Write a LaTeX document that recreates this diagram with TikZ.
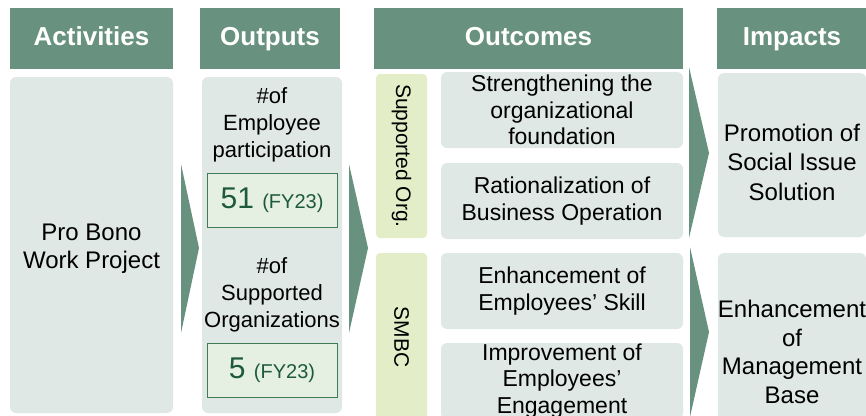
\documentclass[tikz,border=0pt]{standalone}
\usepackage{fontspec}
\setmainfont{Liberation Sans}
\definecolor{hdr}{HTML}{68927F}
\definecolor{bx}{HTML}{E0E8E6}
\definecolor{org}{HTML}{E3EEC9}
\definecolor{numfill}{HTML}{E6F0E2}
\definecolor{numdraw}{HTML}{3C7D55}
\definecolor{numtext}{HTML}{1C5A38}
\newcommand{\fs}[2]{\fontsize{#1}{#2}\selectfont}
\tikzset{
  hdrbox/.style={fill=hdr, text=white, inner sep=0, text height=19pt, text depth=5pt, minimum height=61pt, font=\fs{26}{30}\bfseries},
  bodybox/.style={fill=bx, rounded corners=6pt, inner sep=0},
  orgbox/.style={fill=org, rounded corners=4pt, inner sep=0, minimum width=51pt},
  numbox/.style={fill=numfill, draw=numdraw, line width=1pt, inner sep=0, minimum width=130pt, minimum height=54pt, text=numtext},
  txt/.style={align=center, inner sep=0, font=\fs{22}{27}},
  chev/.style={fill=hdr, draw=none}
}
\begin{document}
\begin{tikzpicture}[x=1pt,y=-1pt]
\useasboundingbox (0,0) rectangle (866,415);
\clip (0,0) rectangle (866,415);
% headers
\node[hdrbox, minimum width=163pt] (hA) at (91.5,38.5) {Activities};
\node[hdrbox, minimum width=140pt] (hB) at (270,38.5) {Outputs};
\node[hdrbox, minimum width=309pt] (hC) at (528.5,38.5) {Outcomes};
\node[hdrbox, minimum width=150pt] (hD) at (792,38.5) {Impacts};
% activities
\node[bodybox, minimum width=163pt, minimum height=336pt] (act) at (91.5,245) {};
\node[txt, font=\fs{24}{28}] (actT) at (91.5,249) {Pro Bono\\Work Project};
% outputs
\node[bodybox, minimum width=140pt, minimum height=336pt] (out) at (272,245) {};
\node[txt] (o1) at (272,125) {\#of\\Employee\\participation};
\node[numbox] (n1) at (272,200) {\fs{30}{34}51 \fs{20}{24}(FY23)};
\node[txt] (o2) at (272,295) {\#of\\Supported\\Organizations};
\node[numbox] (n2) at (272,370) {\fs{30}{34}5 \fs{20}{24}(FY23)};
% side labels
\node[orgbox, minimum height=164pt] (sorg) at (401.5,156) {};
\node[rotate=-90, inner sep=0, font=\fs{21}{24}] at (sorg.center) {Supported Org.};
\node[orgbox, minimum height=172pt] (smbc) at (401.5,339) {};
\node[rotate=-90, inner sep=0, font=\fs{21}{24}] at (401.5,337) {SMBC};
% outcomes
\node[bodybox, minimum width=242pt, minimum height=76pt] (c1) at (562,110) {};
\node[txt, font=\fs{23}{26.5}] at (c1.center) {Strengthening the\\organizational\\foundation};
\node[bodybox, minimum width=242pt, minimum height=76pt] (c2) at (562,201) {};
\node[txt, font=\fs{23}{26.5}] at (c2.center) {Rationalization of\\Business Operation};
\node[bodybox, minimum width=242pt, minimum height=76pt] (c3) at (562,291) {};
\node[txt, font=\fs{23}{26.5}] at (c3.center) {Enhancement of\\Employees’ Skill};
\node[bodybox, minimum width=242pt, minimum height=76pt] (c4) at (562,381) {};
\node[txt, font=\fs{23}{26.5}] at (c4.center) {Improvement of\\Employees’\\Engagement};
% impacts
\node[bodybox, minimum width=148pt, minimum height=164pt] (i1) at (792,155) {};
\node[txt, font=\fs{24}{29.5}] at (792,162) {Promotion of\\Social Issue\\Solution};
\node[bodybox, minimum width=148pt, minimum height=198pt] (i2) at (792,352) {};
\node[txt, font=\fs{24}{28.5}] at (792,352) {Enhancement\\of\\Management\\Base};
% chevrons
\fill[chev] (181,164) -- (199,248) -- (181,333) -- cycle;
\fill[chev] (349,164) -- (368,248) -- (349,333) -- cycle;
\fill[chev] (689,67) -- (709,153) -- (689,238) -- cycle;
\fill[chev] (690,247) -- (709,332) -- (690,417) -- cycle;
\end{tikzpicture}
\end{document}
